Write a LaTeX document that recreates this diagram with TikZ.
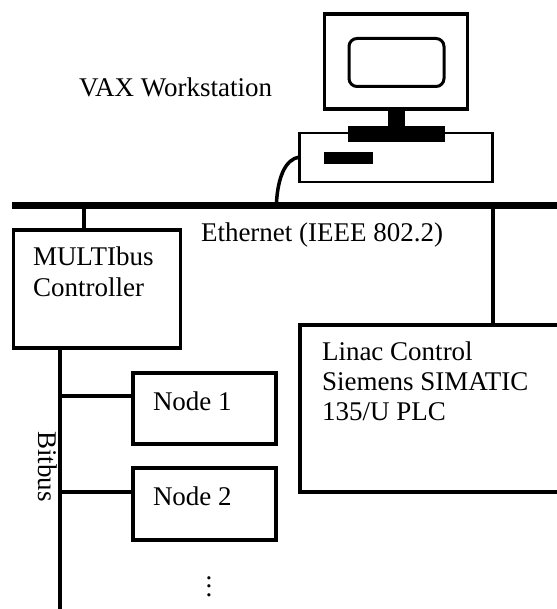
\documentclass[tikz,border=0pt]{standalone}
\usepackage{fontspec}
\setmainfont{Liberation Serif}
\tikzset{
  x=1bp,y=-1bp,
  box/.style={draw=black,line width=3.5bp,fill=white,rectangle,inner sep=0pt,outer sep=0pt},
  solid block/.style={fill=black,rectangle,inner sep=0pt,outer sep=0pt},
  wire/.style={line width=4bp,draw=black},
  label text/.style={anchor=base west,inner sep=0pt,outer sep=0pt,font=\fontsize{27bp}{30bp}\selectfont,text=black},
}
\begin{document}
\begin{tikzpicture}
\useasboundingbox (0,0) rectangle (557,609);
\clip (0,0) rectangle (557,609);
% Buses and boxes
\node[solid block,minimum width=547bp,minimum height=7bp] (eth) at (285.5,205.5) {};
\node[box,minimum width=167bp,minimum height=118bp] (mult) at (97,289) {};
\node[box,minimum width=290bp,minimum height=167bp] (linac) at (445,408.5) {};
\node[box,minimum width=143bp,minimum height=71bp,line width=3.2bp] (nodeA) at (204.5,408.5) {};
\node[box,minimum width=143bp,minimum height=72bp,line width=3.2bp] (nodeB) at (204.5,504) {};
\coordinate (bitend) at (60,609);
% Workstation
\node[box,minimum width=143bp,minimum height=95bp] (monitor) at (396,61.5) {};
\node[draw=black,line width=3bp,rounded corners=8bp,rectangle,inner sep=0pt,outer sep=0pt,minimum width=95bp,minimum height=48bp] (screen) at (396.5,62.5) {};
\node[box,line width=2.6bp,minimum width=193bp,minimum height=49bp] (cpu) at (396,157.5) {};
\node[solid block,minimum width=17bp,minimum height=17bp] (neck) at (396.5,118.5) {};
\node[solid block,minimum width=97bp,minimum height=16bp] (stand) at (396.5,134) {};
\node[solid block,minimum width=49bp,minimum height=12bp] (slot) at (348.5,158) {};
% Connectors
\draw[wire] (84,0 |- eth.south) -- (84,0 |- mult.north);
\draw[wire] (493,0 |- eth.south) -- (493,0 |- linac.north);
\draw[wire] (60,0 |- mult.south) -- (bitend);
\draw[wire] (60,396) -- (nodeA.west |- 0,396);
\draw[wire] (60,492) -- (nodeB.west |- 0,492);
\draw[line width=3.5bp] (cpu.west |- 0,157) .. controls (285,159) and (278,178) .. (276.5,0 |- eth.north);
% Text
\node[label text] (tvax) at (79,97) {VAX Workstation};
\node[label text] (teth) at (201,241) {Ethernet (IEEE 802.2)};
\node[label text] (tm1) at (33,265) {MULTIbus};
\node[label text] (tm2) at (33,296) {Controller};
\node[label text] (tl1) at (322,360) {Linac Control};
\node[label text] (tl2) at (322,390) {Siemens SIMATIC};
\node[label text] (tl3) at (322,420) {135/U PLC};
\node[label text] (tn1) at (153,410) {Node 1};
\node[label text] (tn2) at (153,505) {Node 2};
\node[label text,rotate=-90] (tbit) at (38,431) {Bitbus};
\node[inner sep=0pt,outer sep=0pt,anchor=south,font=\fontsize{27bp}{30bp}\selectfont] (tdots) at (209,597) {\vbox{\offinterlineskip\hbox{.}\vskip5.6bp\hbox{.}\vskip5.6bp\hbox{.}}};
\end{tikzpicture}
\end{document}
